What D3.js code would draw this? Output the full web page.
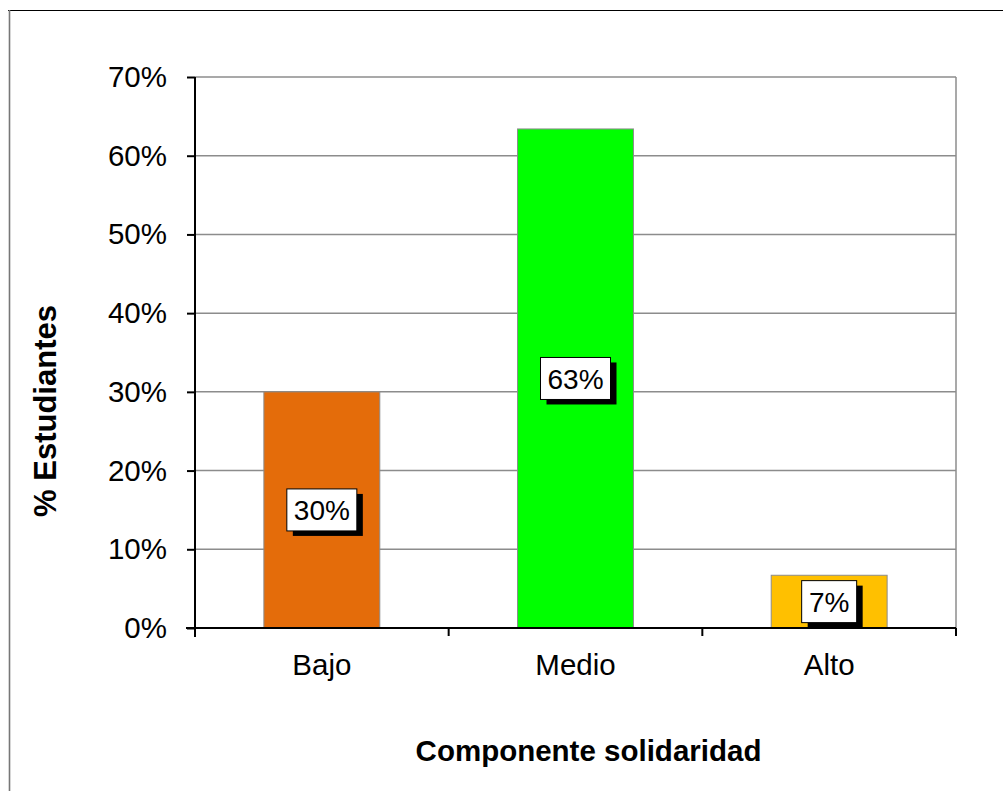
<!DOCTYPE html>
<html><head><meta charset="utf-8">
<script src="https://cdn.jsdelivr.net/npm/d3@7"></script>
<style>body{margin:0;background:#fff}svg{display:block;font-family:"Liberation Sans",Arial,sans-serif}</style>
</head><body>
<svg id="c" width="1003" height="791"></svg>
<script>
const categories = ["Bajo", "Medio", "Alto"];
const values = [0.30, 0.634, 0.067];
const labels = ["30%", "63%", "7%"];
const colors = ["#E46C0A", "#00FF00", "#FFC000"];
const yTicks = [0, 0.1, 0.2, 0.3, 0.4, 0.5, 0.6, 0.7];

(function () {
const svg = d3.select("#c");
const pL = 195, pR = 956, pT = 77, pB = 628;

// outer frame
svg.append("line").attr("x1", 8).attr("x2", 1003).attr("y1", 10.5).attr("y2", 10.5).attr("stroke", "#000").attr("stroke-width", 1.2);
svg.append("line").attr("x1", 9.5).attr("x2", 9.5).attr("y1", 10).attr("y2", 791).attr("stroke", "#777").attr("stroke-width", 1.6);

const x = d3.scaleBand().domain(categories).range([pL, pR]).paddingInner(0.543).paddingOuter(0.2715);
const xb = d3.scaleBand().domain(categories).range([pL, pR]);
const y = d3.scaleLinear().domain([0, 0.7]).range([pB, pT]);

// gridlines
svg.append("g").selectAll("line").data(yTicks.slice(1)).join("line")
  .attr("x1", pL).attr("x2", pR).attr("y1", d => y(d)).attr("y2", d => y(d))
  .attr("stroke", "#8c8c8c").attr("stroke-width", 1.5);
// right border of plot
svg.append("line").attr("x1", pR).attr("x2", pR).attr("y1", pT).attr("y2", pB)
  .attr("stroke", "#8c8c8c").attr("stroke-width", 1.5);

// bars
svg.append("g").selectAll("rect").data(categories).join("rect")
  .attr("x", d => x(d)).attr("width", x.bandwidth())
  .attr("y", (d, i) => y(values[i])).attr("height", (d, i) => pB - y(values[i]))
  .attr("fill", (d, i) => colors[i]).attr("stroke", "#8c8c8c").attr("stroke-width", 1);

// y axis
const yAxis = d3.axisLeft(y).tickValues(yTicks).tickFormat(d3.format(".0%")).tickSize(8).tickPadding(20);
const gy = svg.append("g").attr("transform", `translate(${pL},0)`).call(yAxis);
gy.select(".domain").attr("stroke", "#000").attr("stroke-width", 2).attr("d", `M0,${pT}V${pB + 9}`);
gy.selectAll(".tick line").attr("stroke", "#000").attr("stroke-width", 2);
gy.selectAll("text").attr("font-size", 29.5).attr("fill", "#000").attr("font-family", "Liberation Sans, Arial, sans-serif");

// x axis
const xAxis = d3.axisBottom(xb).tickSize(0).tickPadding(26);
const gx = svg.append("g").attr("transform", `translate(0,${pB})`).call(xAxis);
gx.select(".domain").attr("stroke", "#000").attr("stroke-width", 2).attr("d", `M${pL - 9},0H${pR}`);
gx.selectAll("text").attr("font-size", 29.5).attr("fill", "#000").attr("font-family", "Liberation Sans, Arial, sans-serif");
// category boundary ticks
const bounds = categories.map(c => xb(c)).concat([pR]);
svg.append("g").selectAll("line").data(bounds).join("line")
  .attr("x1", d => d).attr("x2", d => d).attr("y1", pB).attr("y2", pB + 8)
  .attr("stroke", "#000").attr("stroke-width", 2);

// data labels
const lg = svg.append("g").selectAll("g").data(categories).join("g")
  .attr("transform", (d, i) => `translate(${xb(d) + xb.bandwidth() / 2},${(y(values[i]) + pB) / 2})`);
lg.each(function (d, i) {
  const g = d3.select(this);
  const w = labels[i].length === 2 ? 55 : 70, h = 42;
  g.append("rect").attr("x", -w / 2 + 6).attr("y", -h / 2 + 5).attr("width", w).attr("height", h).attr("fill", "#000");
  g.append("rect").attr("x", -w / 2).attr("y", -h / 2).attr("width", w).attr("height", h).attr("fill", "#fff").attr("stroke", "#000").attr("stroke-width", 1);
  g.append("text").attr("text-anchor", "middle").attr("dy", "0.36em").attr("font-size", 28).text(labels[i]);
});

// axis titles
svg.append("text").attr("x", (pL + pR) / 2 + 13).attr("y", 761).attr("text-anchor", "middle")
  .attr("font-size", 29.5).attr("font-weight", "bold").text("Componente solidaridad");
svg.append("text").attr("transform", `translate(56,${411}) rotate(-90)`).attr("text-anchor", "middle")
  .attr("font-size", 31).attr("font-weight", "bold").text("% Estudiantes");
})();
</script>
</body></html>
